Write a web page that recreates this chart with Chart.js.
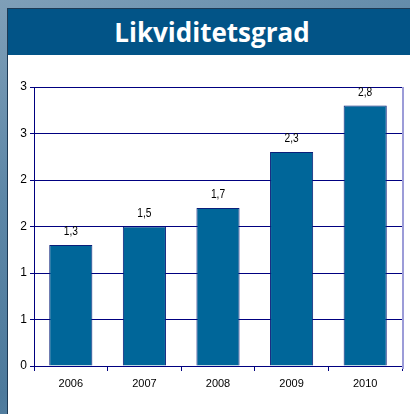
<!DOCTYPE html>
<html>
<head>
<meta charset="utf-8">
<script src="https://cdn.jsdelivr.net/npm/chart.js@4/dist/chart.umd.min.js"></script>
<style>
  html, body { margin:0; padding:0; }
  body { width:410px; height:414px; overflow:hidden; position:relative;
    background: linear-gradient(160deg, #7f9fb8 0%, #5d87a7 35%, #4d7a9c 70%, #6a90ad 100%); }
  #panel { position:absolute; left:7px; top:8px; width:403px; height:406px;
    border-left:1px solid #1d3a55; border-top:1px solid #1d3a55; background:#fff; box-sizing:border-box; }
  #header { position:absolute; left:0; top:0; width:402px; height:46px; background:#025487;
    color:#fff; font-family:"Open Sans", sans-serif; font-weight:700; font-size:26px;
    display:flex; align-items:center; justify-content:center; padding-left:6px; box-sizing:border-box; }
  #wrap { position:absolute; left:0; top:46px; width:402px; height:359px; }
</style>
</head>
<body>
<div id="panel">
  <div id="header">Likviditetsgrad</div>
  <div id="wrap"><canvas id="c" width="402" height="359"></canvas></div>
</div>
<script>
const categories = ['2006', '2007', '2008', '2009', '2010'];
const values = [1.3, 1.5, 1.7, 2.3, 2.8];
const yTickValues = [0, 0.5, 1, 1.5, 2, 2.5, 3];
const yTickLabels = ['0', '1', '1', '2', '2', '3', '3'];

const FONT = "'Liberation Sans Narrow', 'Liberation Sans', Arial, sans-serif";

const valueLabels = {
  id: 'valueLabels',
  afterDatasetsDraw(chart) {
    const ctx = chart.ctx;
    const meta = chart.getDatasetMeta(0);
    meta.data.forEach((bar, i) => {
      const txt = values[i].toFixed(1).replace('.', ',');
      ctx.save();
      ctx.translate(bar.x, bar.y - 13);
      ctx.scale(0.85, 1);
      ctx.fillStyle = '#000';
      ctx.font = '12px ' + FONT;
      ctx.textAlign = 'center';
      ctx.textBaseline = 'middle';
      ctx.fillText(txt, 0, 0);
      ctx.restore();
    });
  }
};
const rightBorder = {
  id: 'rightBorder',
  afterDraw(chart) {
    const a = chart.chartArea, ctx = chart.ctx;
    ctx.save();
    ctx.strokeStyle = '#9c9cd8';
    ctx.lineWidth = 2;
    ctx.beginPath();
    ctx.moveTo(a.right + 1, a.top);
    ctx.lineTo(a.right + 1, a.bottom + 3);
    ctx.stroke();
    ctx.restore();
  }
};

new Chart(document.getElementById('c'), {
  type: 'bar',
  data: {
    labels: categories,
    datasets: [{
      data: values,
      backgroundColor: '#006699',
      borderColor: '#0a1f7a',
      borderWidth: 1,
      barPercentage: 0.586,
      categoryPercentage: 1
    }]
  },
  options: {
    responsive: false,
    animation: false,
    events: [],
    layout: { padding: { top: 32, right: 8, left: 0, bottom: 0 } },
    plugins: { legend: { display: false }, tooltip: { enabled: false } },
    scales: {
      x: {
        offset: true,
        grid: { drawOnChartArea: false, drawTicks: true, tickLength: 5, color: '#000080', offset: true },
        border: { color: '#000080', width: 1 },
        ticks: { color: '#000', font: { size: 11, family: FONT }, padding: 6, maxRotation: 0 },
        afterFit(s) { s.height = 48; }
      },
      y: {
        min: 0, max: 3,
        afterBuildTicks(s) { s.ticks = yTickValues.map(v => ({ value: v })); },
        grid: { color: '#000080', lineWidth: 1, tickLength: 4 },
        border: { color: '#000080', width: 1 },
        ticks: {
          color: '#000', font: { size: 12, family: FONT }, padding: 3,
          callback: (v, i) => yTickLabels[i]
        },
        afterFit(s) { s.width = 26; }
      }
    }
  },
  plugins: [valueLabels, rightBorder]
});
</script>
</body>
</html>
